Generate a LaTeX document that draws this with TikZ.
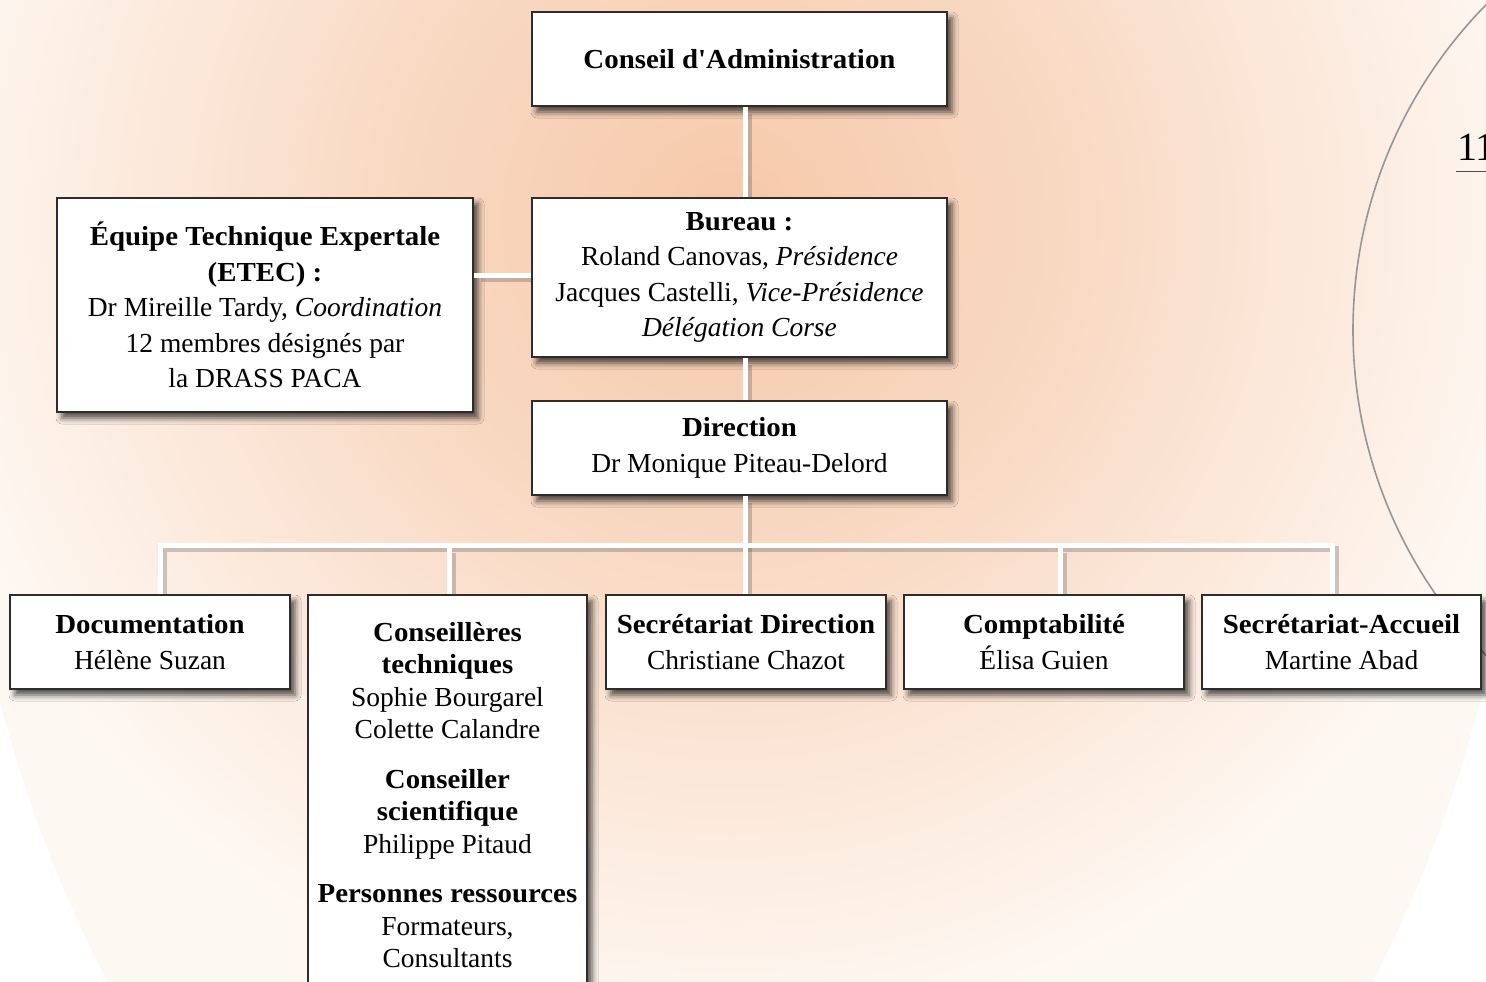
\documentclass[tikz,border=0pt]{standalone}
\usepackage{fontspec}
\setmainfont{Liberation Serif}[Ligatures=TeXOff, BoldFeatures={FakeStretch=1.05}]
\usetikzlibrary{shadows.blur}
\definecolor{peach}{RGB}{246,201,170}
\definecolor{peachlight}{RGB}{254,248,243}
\definecolor{arcgray}{RGB}{150,150,150}
\definecolor{boxline}{RGB}{45,45,45}
\pgfdeclareradialshading{bgshade}{\pgfpoint{0bp}{0bp}}{%
  color(0bp)=(peach); color(10bp)=(peachlight!32!peach); color(18bp)=(peachlight!68!peach);
  color(25bp)=(peachlight); color(50bp)=(peachlight)}
\newcommand\conntree[1]{%
  \draw[#1] (j3 |- conseil.south) -- (j3 |- bureau.north);
  \draw[#1] (j3 |- bureau.south) -- (j3 |- dir.north);
  \draw[#1] (j3 |- dir.south) -- (j3) -- (j3 |- secdir.north);
  \draw[#1] (j1 |- doc.north) -- (j1) -- (j5) -- (j5 |- accueil.north);
  \draw[#1] (j2) -- (j2 |- cons.north);
  \draw[#1] (j4) -- (j4 |- compta.north);
  \draw[#1] (ej -| etec.east) -- (ej -| bureau.west);
}
\begin{document}
\begin{tikzpicture}[x=1pt,y=-1pt,
  box/.style={draw=boxline, line width=1.1pt, fill=white, align=center, inner sep=0pt,
    blur shadow={shadow xshift=5pt, shadow yshift=-6pt, shadow blur radius=6pt, shadow opacity=70},
    font=\fontsize{27.5}{35.5}\selectfont},
  conn/.style={line width=5pt, white, line join=miter},
  connshadow/.style={line width=6pt, black!70, opacity=0.28, line join=miter, shorten <=4pt, shorten >=4pt},
]
\useasboundingbox (0,0) rectangle (1486,982);
% background
\fill[white] (0,0) rectangle (1486,982);
\begin{scope}
  \clip (740,300) ellipse [x radius=791pt, y radius=1135pt];
  \fill[peachlight] (0,0) rectangle (1486,982);
  \shade[shading=bgshade] (730,220) circle (820pt);
\end{scope}
\draw[arcgray, line width=1.6pt] (1817,330) circle (464pt);
\node[font=\fontsize{40}{40}\selectfont, anchor=base west, inner sep=0pt] (pg) at (1457,160) {11};
\draw[black!70, line width=1pt] (1456,171) -- (1490,171);

% boxes
\node[box, minimum width=415pt, minimum height=94pt] (conseil) at (739.5,59) {\textbf{Conseil d'Administration}};
\node[box, minimum width=415pt, minimum height=159pt] (bureau) at (739.5,277.5)
  {\textbf{Bureau :}\\ Roland Canovas, \textit{Présidence}\\ Jacques Castelli, \textit{Vice-Présidence}\\ \textit{Délégation Corse}};
\node[box, minimum width=416pt, minimum height=214pt] (etec) at (265,305)
  {\textbf{Équipe Technique Expertale}\\ \textbf{(ETEC) :}\\ Dr Mireille Tardy, \textit{Coordination}\\ 12 membres désignés par\\ la DRASS PACA};
\node[box, minimum width=415pt, minimum height=94pt] (dir) at (739.5,448)
  {\textbf{Direction}\\ Dr Monique Piteau-Delord};
\node[box, minimum width=280pt, minimum height=94pt] (doc) at (150,642)
  {\textbf{Documentation}\\ Hélène Suzan};
\node[box, minimum width=279pt, minimum height=400pt, font=\fontsize{27.5}{32.5}\selectfont] (cons) at (447.5,795)
  {\textbf{Conseillères}\\ \textbf{techniques}\\ Sophie Bourgarel\\ Colette Calandre\\[17pt]
   \textbf{Conseiller}\\ \textbf{scientifique}\\ Philippe Pitaud\\[17pt]
   \textbf{Personnes ressources}\\ Formateurs,\\ Consultants};
\node[box, minimum width=280pt, minimum height=94pt] (secdir) at (746,642)
  {\textbf{Secrétariat Direction}\\ Christiane Chazot};
\node[box, minimum width=280pt, minimum height=94pt] (compta) at (1044,642)
  {\textbf{Comptabilité}\\ Élisa Guien};
\node[box, minimum width=279pt, minimum height=94pt] (accueil) at (1341.5,642)
  {\textbf{Secrétariat-Accueil}\\ Martine Abad};

% junctions
\coordinate (j1) at (160,545);
\coordinate (j2) at (449,545);
\coordinate (j3) at (745,545);
\coordinate (j4) at (1060,545);
\coordinate (j5) at (1332,545);
\coordinate (ej) at (500,275);

% connectors
\begin{scope}[transform canvas={xshift=3.5pt,yshift=-3.5pt}]
  \conntree{connshadow}
\end{scope}
\conntree{conn}
\end{tikzpicture}
\end{document}
